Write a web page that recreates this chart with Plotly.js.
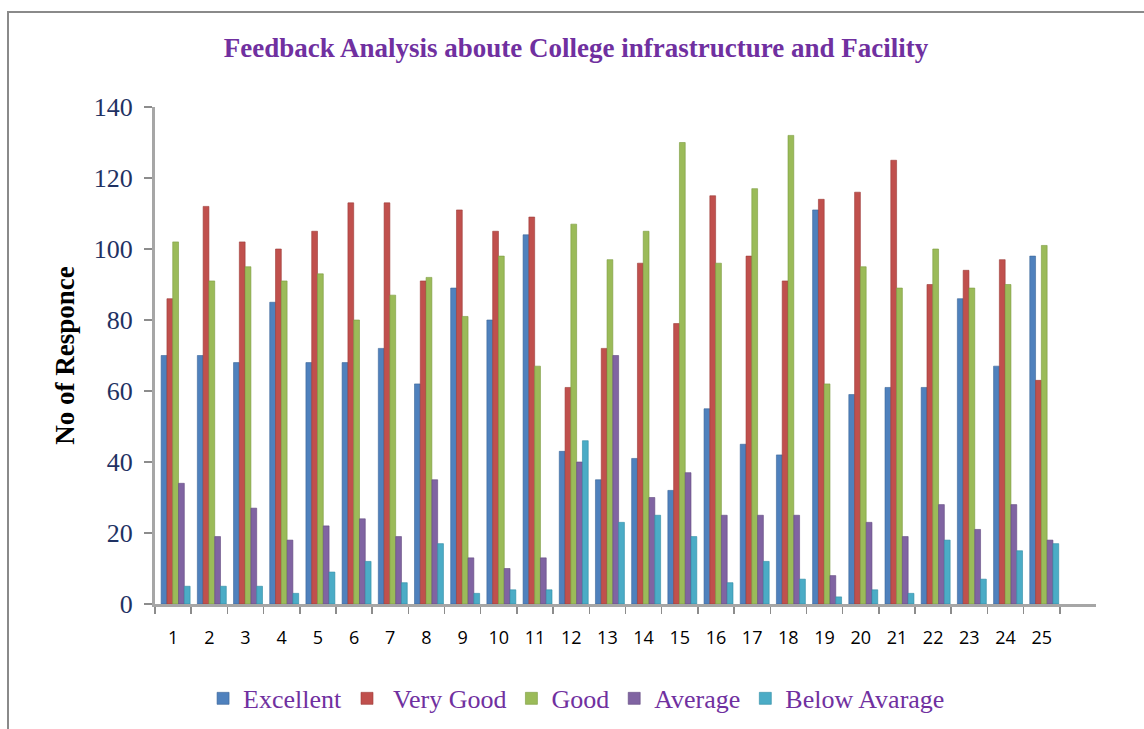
<!DOCTYPE html>
<html>
<head>
<meta charset="utf-8">
<script src="https://cdn.plot.ly/plotly-3.0.1.min.js"></script>
<style>
html,body{margin:0;padding:0;background:#fff;}
#frame{position:absolute;left:7px;top:11px;width:1137px;height:718px;border-left:2px solid #8a8a8a;border-top:2px solid #8a8a8a;}
#chart{position:absolute;left:0;top:0;width:1144px;height:729px;}
</style>
</head>
<body>
<div id="frame"></div>
<div id="chart"></div>
<script>
var categories = ["1","2","3","4","5","6","7","8","9","10","11","12","13","14","15","16","17","18","19","20","21","22","23","24","25"];
var excellent = [70,70,68,85,68,68,72,62,89,80,104,43,35,41,32,55,45,42,111,59,61,61,86,67,98];
var veryGood  = [86,112,102,100,105,113,113,91,111,105,109,61,72,96,79,115,98,91,114,116,125,90,94,97,63];
var good      = [102,91,95,91,93,80,87,92,81,98,67,107,97,105,130,96,117,132,62,95,89,100,89,90,101];
var average   = [34,19,27,18,22,24,19,35,13,10,13,40,70,30,37,25,25,25,8,23,19,28,21,28,18];
var belowAvg  = [5,5,5,3,9,12,6,17,3,4,4,46,23,25,19,6,12,7,2,4,3,18,7,15,17];
var seriesNames = ["Excellent"," Very Good","Good","Average","Below Avarage"];
var colors = ["#4F81BD","#C0504D","#9BBB59","#8064A2","#4BACC6"];
var lines = ["#3A6597","#9C3A37","#7A9A3E","#62497F","#2F8CA5"];
var yTicks = [0,20,40,60,80,100,120,140];

var allVals = [excellent, veryGood, good, average, belowAvg];
var barW = 0.16;
var traces = allVals.map(function(v, i){
  return {
    type: "bar", x: categories, y: v, name: seriesNames[i],
    width: barW, offset: -0.4 + 0.07 + i*barW,
    marker: {color: colors[i], line: {color: lines[i], width: 0.6}},
    hoverinfo: "y"
  };
});

var serif = "Liberation Serif, Times New Roman, serif";
var layout = {
  width: 1144, height: 729,
  margin: {l: 155, r: 48, t: 107, b: 125, autoexpand: false},
  paper_bgcolor: "rgba(0,0,0,0)", plot_bgcolor: "rgba(0,0,0,0)",
  barmode: "group",
  title: {
    text: "Feedback Analysis aboute College infrastructure and Facility",
    font: {family: serif, size: 27, color: "#7030A0", weight: "bold"},
    x: 0.5035, xanchor: "center", y: 1 - 48/729, yref: "container", yanchor: "middle"
  },
  xaxis: {
    type: "category", range: [-0.5, 25.5], automargin: false,
    tickson: "boundaries", ticks: "outside", ticklen: 7, tickcolor: "#8c8c8c", tickwidth: 1.5,
    showline: true, linecolor: "#a6a6a6", linewidth: 3,
    showgrid: false, zeroline: false,
    tickfont: {family: "Open Sans, Liberation Sans, sans-serif", size: 18, color: "#000"},
    ticklabelstandoff: 15
  },
  yaxis: {
    range: [0, 140], tickvals: yTicks, ticktext: yTicks.map(String), automargin: false,
    ticks: "outside", ticklen: 8, tickcolor: "#8c8c8c", tickwidth: 1.5,
    showline: true, linecolor: "#a6a6a6", linewidth: 3,
    showgrid: false, zeroline: false,
    tickfont: {family: serif, size: 26, color: "#1F3263"},
    ticklabelstandoff: 6,
    title: {text: "No of Responce", standoff: 12,
      font: {family: serif, size: 27, color: "#000", weight: "bold"}}
  },
  showlegend: true,
  legend: {
    orientation: "h", x: 0.448, xanchor: "center", y: -0.19, yanchor: "middle",
    font: {family: serif, size: 26, color: "#7030A0"},
    itemwidth: 30, traceorder: "normal"
  }
};

Plotly.newPlot("chart", traces, layout, {displayModeBar: false, staticPlot: true});
</script>
</body>
</html>
